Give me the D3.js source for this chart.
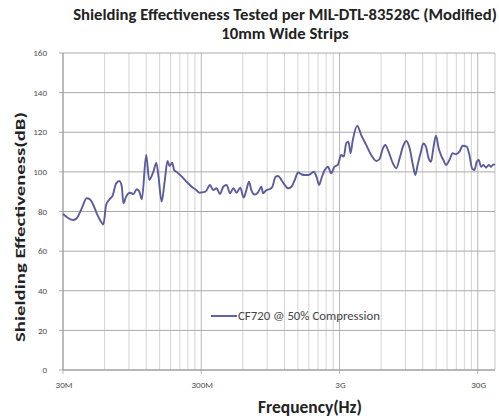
<!DOCTYPE html>
<html>
<head>
<meta charset="utf-8">
<script src="https://cdn.jsdelivr.net/npm/d3@7"></script>
<style>
  html, body { margin: 0; padding: 0; background: #fff; }
  svg { display: block; }
</style>
</head>
<body>
<svg id="chart" width="499" height="420"></svg>
<script>
// ---- data ----
const titleLines = ["Shielding Effectiveness Tested per MIL-DTL-83528C (Modified)", "10mm Wide Strips"];
const yLabel = "Shielding Effectiveness(dB)";
const xLabel = "Frequency(Hz)";
const seriesName = "CF720 @ 50% Compression";
const yTicks = [0, 20, 40, 60, 80, 100, 120, 140, 160];
const xTickValues = [30e6, 300e6, 3e9, 30e9];
const xTickLabels = ["30M", "300M", "3G", "30G"];

// frequency in MHz
const freqMHz = [
  30, 32.8, 35.6, 37.7, 41.0, 44.5, 47.1, 49.7, 52.6, 55.6,
  58.8, 61.5, 65.0, 68.8, 72.7, 76.8, 79.9, 82.1, 85.8, 91.8,
  97.0, 102.6, 107.1, 111.5, 120, 126, 135, 142, 147, 155,
  163, 171, 177, 185, 191, 199, 217, 235, 256, 276,
  290, 322, 347, 366, 387, 410, 433, 458, 484, 512,
  541, 575, 608, 636, 665, 691, 730, 773, 817, 840,
  887, 938, 981, 1036, 1079, 1140, 1204, 1275, 1347, 1423,
  1506, 1591, 1682, 1780, 1881, 1954, 2044, 2138, 2222, 2348,
  2477, 2613, 2760, 2916, 3086, 3223, 3355, 3486, 3604, 3745,
  4031, 4309, 4683, 5091, 5534, 5849, 6180, 6433, 6796, 7300,
  7728, 8166, 8629, 9130, 9649, 10193, 10610, 11024, 11648, 12123,
  12662, 13244, 13764, 14326, 14960, 15651, 16265, 16929, 17682, 18712,
  19770, 20892, 22110, 23362, 24968, 26127, 27284, 28396, 29505, 30504,
  31698, 32994, 34453, 36043, 37455, 38987, 40000
];
// shielding effectiveness in dB
const seDb = [
  78.7, 76.6, 75.7, 76.6, 81.6, 86.7, 86.1, 83.3, 79.1, 75.7,
  73.5, 83.3, 86.1, 88.3, 94.2, 95.4, 92.5, 84.1, 87.5, 89.5,
  88.8, 91.2, 90.0, 86.1, 108.5, 96.0, 100.0, 104.5, 98.0, 85.0,
  95.0, 105.5, 103.0, 104.6, 100.9, 100.0, 97.6, 95.0, 92.5, 90.8,
  89.5, 90.0, 93.4, 90.8, 91.7, 88.8, 92.5, 93.4, 89.2, 91.7,
  89.5, 92.0, 87.0, 90.8, 95.0, 90.8, 88.6, 89.7, 92.5, 89.2,
  90.8, 91.3, 92.5, 97.6, 97.9, 95.9, 93.4, 91.7, 92.5, 95.9,
  99.7, 98.8, 98.4, 98.4, 99.3, 100.1, 97.6, 93.4, 96.8, 100.9,
  102.6, 99.3, 102.6, 103.5, 108.5, 107.7, 114.4, 115.2, 109.4, 116.1,
  123.3, 118.6, 113.6, 108.5, 105.5, 106.5, 111.9, 113.6, 110.2, 104.3,
  101.8, 106.8, 112.7, 115.6, 111.9, 103.5, 98.4, 103.5, 110.2, 114.4,
  112.7, 106.8, 105.1, 111.9, 118.3, 111.9, 108.5, 106.0, 103.5, 106.0,
  109.4, 108.9, 110.2, 113.2, 112.7, 108.5, 101.8, 100.9, 105.1, 106.0,
  102.6, 103.5, 102.1, 103.5, 102.6, 103.8, 103.5
];

// ---- drawing ----
const svg = d3.select("#chart");
const FONT = "Carlito, Lato, 'Open Sans', sans-serif";
const plot = { left: 63, right: 495, top: 53, bottom: 370 };

const x = d3.scaleLog().domain([30e6, 40e9]).range([plot.left, plot.right]);
const y = d3.scaleLinear().domain([0, 160]).range([plot.bottom, plot.top]);

function fitWidth(sel, target) {
  const w = sel.node().getComputedTextLength();
  const fs = parseFloat(sel.attr("font-size"));
  if (w > 0) sel.attr("font-size", (fs * target / w).toFixed(2));
  return sel;
}

// minor vertical gridlines: multiples of each decade start
const minorVals = [];
xTickValues.forEach(b => { for (let k = 2; k <= 9; k++) { const v = b * k; if (v < 40e9) minorVals.push(v); } });

const grid = svg.append("g");
grid.selectAll("line.minor").data(minorVals).join("line")
  .attr("x1", d => x(d)).attr("x2", d => x(d))
  .attr("y1", plot.top).attr("y2", plot.bottom)
  .attr("stroke", "#d4d4d4").attr("stroke-width", 1);
grid.selectAll("line.major").data(xTickValues).join("line")
  .attr("x1", d => x(d)).attr("x2", d => x(d))
  .attr("y1", plot.top).attr("y2", plot.bottom + 4)
  .attr("stroke", "#b8b8b8").attr("stroke-width", 1);
// right edge
grid.append("line")
  .attr("x1", plot.right).attr("x2", plot.right)
  .attr("y1", plot.top).attr("y2", plot.bottom)
  .attr("stroke", "#c8c8c8");
// horizontal gridlines
grid.selectAll("line.h").data(yTicks).join("line")
  .attr("x1", plot.left - 4).attr("x2", plot.right)
  .attr("y1", d => y(d)).attr("y2", d => y(d))
  .attr("stroke", "#aaaaaa").attr("stroke-width", 1);

// axis lines
svg.append("line").attr("x1", plot.left).attr("x2", plot.left)
  .attr("y1", plot.top).attr("y2", plot.bottom).attr("stroke", "#9a9a9a");
svg.append("line").attr("x1", plot.left).attr("x2", plot.right)
  .attr("y1", plot.bottom).attr("y2", plot.bottom).attr("stroke", "#9a9a9a");

// y tick labels
svg.append("g").selectAll("text").data(yTicks).join("text")
  .attr("x", 47).attr("y", d => y(d)).attr("dy", "0.35em")
  .attr("text-anchor", "end").attr("font-family", FONT).attr("font-size", 9)
  .attr("fill", "#4d4d4d").text(d => d);

// x tick labels
svg.append("g").selectAll("text").data(xTickValues).join("text")
  .attr("x", d => x(d) + 1).attr("y", 388)
  .attr("text-anchor", "middle").attr("font-family", FONT).attr("font-size", 9)
  .attr("fill", "#4d4d4d").text((d, i) => xTickLabels[i]);

// series line
const pts = freqMHz.map((f, i) => [f * 1e6, seDb[i]]);
const line = d3.line().x(d => x(d[0])).y(d => y(d[1])).curve(d3.curveMonotoneX);
svg.append("path").datum(pts).attr("d", line)
  .attr("fill", "none").attr("stroke", "#5a5c9e").attr("stroke-width", 1.9)
  .attr("stroke-linejoin", "round");

// legend
svg.append("line").attr("x1", 211).attr("x2", 237).attr("y1", 316).attr("y2", 316)
  .attr("stroke", "#5a5c9e").attr("stroke-width", 1.9);
const lt = svg.append("text").attr("x", 238).attr("y", 316).attr("dy", "0.35em")
  .attr("font-family", FONT).attr("font-size", 10).attr("fill", "#444").text(seriesName);
fitWidth(lt, 142);

// title
const t1 = svg.append("text").attr("x", 285).attr("y", 20).attr("text-anchor", "middle")
  .attr("font-family", FONT).attr("font-weight", "bold").attr("font-size", 13)
  .attr("fill", "#222").text(titleLines[0]);
fitWidth(t1, 424);
svg.append("text").attr("x", 285).attr("y", 39).attr("text-anchor", "middle")
  .attr("font-family", FONT).attr("font-weight", "bold").attr("font-size", t1.attr("font-size"))
  .attr("fill", "#222").text(titleLines[1]);

// axis titles
const xl = svg.append("text").attr("x", 310).attr("y", 413).attr("text-anchor", "middle")
  .attr("font-family", FONT).attr("font-weight", "bold").attr("font-size", 13)
  .attr("fill", "#222").text(xLabel);
fitWidth(xl, 104);

// y title: glyph size ~14px, stretched along its length to span the reference extent
const ylg = svg.append("g").attr("transform", "translate(25,227) rotate(-90)");
const yl = ylg.append("text").attr("text-anchor", "middle")
  .attr("font-family", FONT).attr("font-weight", "bold").attr("font-size", 14)
  .attr("fill", "#222").text(yLabel);
const ylw = yl.node().getComputedTextLength();
if (ylw > 0) yl.attr("transform", `scale(${(230 / ylw).toFixed(3)},1)`);
</script>
</body>
</html>
